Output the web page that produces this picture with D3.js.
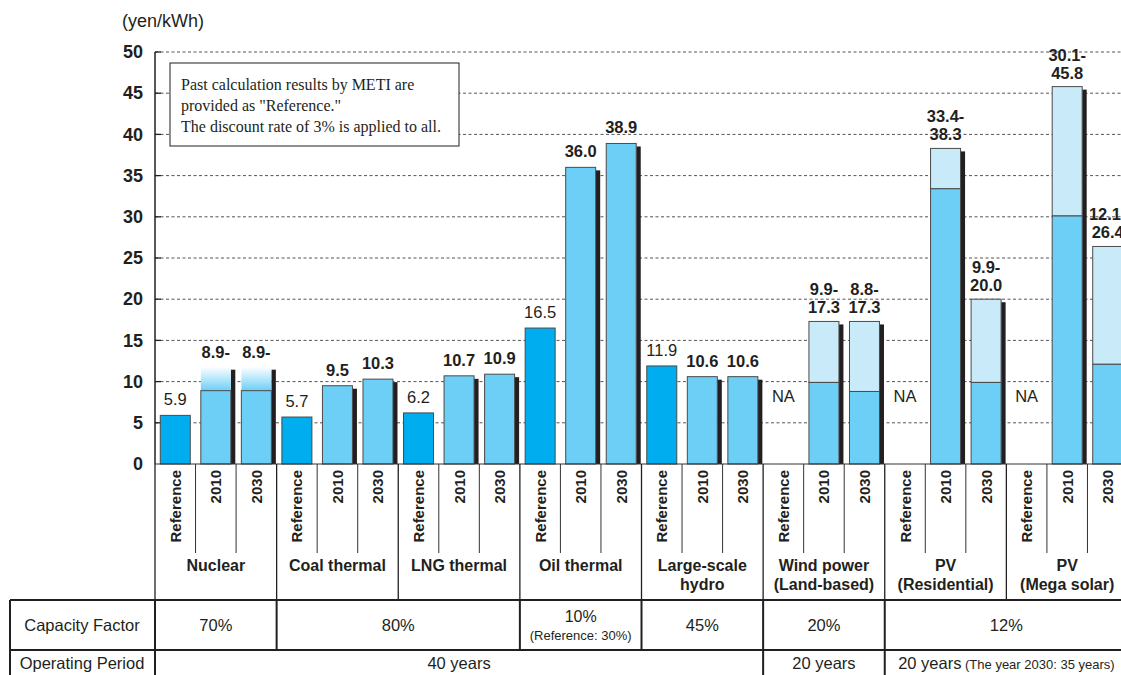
<!DOCTYPE html>
<html><head><meta charset="utf-8">
<script src="https://cdn.jsdelivr.net/npm/d3@7"></script>
<style>
html,body{margin:0;padding:0;background:#fff;}
svg{display:block;font-family:"Liberation Sans",Arial,Helvetica,sans-serif;}
</style></head>
<body>
<svg id="c" width="1121" height="675"></svg>
<script>
// ---- data ----
const groups = ["Nuclear","Coal thermal","LNG thermal","Oil thermal","Large-scale\nhydro","Wind power\n(Land-based)","PV\n(Residential)","PV\n(Mega solar)"];
const periods = ["Reference","2010","2030"];
const refValues = [5.9, 5.7, 6.2, 16.5, 11.9, null, null, null];
const low2010  = [8.9, 9.5, 10.7, 36.0, 10.6, 9.9, 33.4, 30.1];
const high2010 = [null, null, null, null, null, 17.3, 38.3, 45.8];
const low2030  = [8.9, 10.3, 10.9, 38.9, 10.6, 8.8, 9.9, 12.1];
const high2030 = [null, null, null, null, null, 17.3, 20.0, 26.4];
const openEnded = [true, false, false, false, false, false, false, false];
const yTicks = [0,5,10,15,20,25,30,35,40,45,50];
const yUnit = "(yen/kWh)";
const noteLines = ["Past calculation results by METI are","provided as \"Reference.\"","The discount rate of 3% is applied to all."];
const capacityLabels = ["70%","80%","10%","45%","20%","12%"];
const capacitySubs = [null,null,"(Reference: 30%)",null,null,null];
const capacitySpans = [[0,1],[1,3],[3,4],[4,5],[5,6],[6,8]];
const periodLabels = ["40 years","20 years","20 years"];
const periodSubs = [null,null,"(The year 2030: 35 years)"];
const periodSpans = [[0,5],[5,6],[6,8]];
const rowTitles = ["Capacity Factor","Operating Period"];

// ---- build slot records ----
const slots = [];
groups.forEach((g,i)=>{
  periods.forEach((p,j)=>{
    let lo, hi = null;
    if (j===0) lo = refValues[i];
    else if (j===1) { lo = low2010[i]; hi = high2010[i]; }
    else { lo = low2030[i]; hi = high2030[i]; }
    slots.push({key:i+"-"+p, gi:i, period:p, ref:j===0, lo, hi, open: j>0 && openEnded[i]});
  });
});

const svg = d3.select("#c");
const X0 = 155, X1 = 1128, Y0 = 464, Y50 = 52;
const y = d3.scaleLinear().domain([0,50]).range([Y0, Y50]);
const gx = d3.scaleBand().domain(groups).range([X0, X1]);
const sx = d3.scaleBand().domain(slots.map(d=>d.key)).range([X0, X1]).paddingInner(0.26).paddingOuter(0.13);

const cRef = "#00aeef", cMain = "#6dcff6", cLight = "#c8eaf9", cShadow = "#231f20", cEdge = "#4a4a4a";

// gradient for open-ended nuclear
const defs = svg.append("defs");
const grad = defs.append("linearGradient").attr("id","fade").attr("x1",0).attr("y1",1).attr("x2",0).attr("y2",0);
grad.append("stop").attr("offset","0%").attr("stop-color",cMain);
grad.append("stop").attr("offset","100%").attr("stop-color","#ffffff");

// grid
svg.append("g").selectAll("line").data(yTicks.filter(t=>t>0)).join("line")
  .attr("x1",X0).attr("x2",1121).attr("y1",d=>y(d)).attr("y2",d=>y(d))
  .attr("stroke","#555").attr("stroke-width",1).attr("stroke-dasharray","3,2.5");

// y axis
const ax = svg.append("g").attr("transform",`translate(${X0},0)`)
  .call(d3.axisLeft(y).tickValues(yTicks).tickSize(0).tickPadding(12));
ax.select(".domain").remove();
ax.selectAll("text").attr("font-size",18).attr("font-weight","bold").attr("fill","#231f20")
  .attr("font-family","Liberation Sans, Arial, sans-serif");
svg.append("line").attr("x1",X0).attr("x2",X0).attr("y1",y(50)).attr("y2",Y0).attr("stroke","#231f20").attr("stroke-width",1.5);
svg.append("g").selectAll("line").data(yTicks.filter(t=>t>0)).join("line")
  .attr("x1",X0).attr("x2",X0+6).attr("y1",d=>y(d)).attr("y2",d=>y(d)).attr("stroke","#231f20").attr("stroke-width",1.3);
svg.append("text").attr("x",122).attr("y",27).attr("font-size",18).attr("fill","#231f20").text(yUnit);

// bars
const bw = sx.bandwidth();
const FADE = 24;
const barsG = svg.append("g");
slots.forEach(d=>{
  if (d.lo==null) return;
  const x = sx(d.key);
  const top = d.hi!=null ? y(d.hi) : (d.open ? y(d.lo)-FADE : y(d.lo));
  if (!d.ref) {
    barsG.append("rect").attr("x",x+bw).attr("y",top+3).attr("width",4.5).attr("height",Y0-top-3).attr("fill",cShadow);
  }
  if (d.open) {
    barsG.append("rect").attr("x",x).attr("y",top).attr("width",bw).attr("height",FADE).attr("fill","url(#fade)");
  }
  if (d.hi!=null) {
    barsG.append("rect").attr("x",x).attr("y",y(d.hi)).attr("width",bw).attr("height",y(d.lo)-y(d.hi))
      .attr("fill",cLight).attr("stroke",cEdge).attr("stroke-width",1);
  }
  barsG.append("rect").attr("x",x).attr("y",y(d.lo)).attr("width",bw).attr("height",Y0-y(d.lo))
    .attr("fill",d.ref?cRef:cMain).attr("stroke",cEdge).attr("stroke-width",1);
});

// value labels
const lab = svg.append("g").attr("text-anchor","middle").attr("fill","#231f20").attr("font-size",16.5);
slots.forEach(d=>{
  const cx = sx(d.key)+bw/2;
  if (d.lo==null) {
    lab.append("text").attr("x",cx).attr("y",y(7.5)).text("NA");
    return;
  }
  const fw = d.ref ? "normal" : "bold";
  if (d.hi!=null) {
    const b = y(d.hi)-8;
    lab.append("text").attr("x",cx).attr("y",b-18).attr("font-weight",fw).text(d.lo.toFixed(1)+"-");
    lab.append("text").attr("x",cx).attr("y",b).attr("font-weight",fw).text(d.hi.toFixed(1));
  } else if (d.open) {
    lab.append("text").attr("x",cx).attr("y",y(d.lo)-FADE-9).attr("font-weight",fw).text(d.lo.toFixed(1)+"-");
  } else {
    lab.append("text").attr("x",cx).attr("y",y(d.lo)-10).attr("font-weight",fw).text(d.lo.toFixed(1));
  }
});

// note box
const nb = svg.append("g");
nb.append("rect").attr("x",170).attr("y",63).attr("width",289).attr("height",83).attr("fill","#fff").attr("stroke","#231f20").attr("stroke-width",1);
nb.selectAll("text").data(noteLines).join("text")
  .attr("x",181).attr("y",(d,i)=>90+i*21).attr("font-family","Liberation Serif, Times New Roman, serif")
  .attr("font-size",16).attr("fill","#231f20").text(d=>d);

// category area
const cat = svg.append("g");
cat.append("line").attr("x1",X0).attr("x2",1121).attr("y1",Y0).attr("y2",Y0).attr("stroke","#333").attr("stroke-width",1);
slots.forEach((d,i)=>{
  const bx = X0 + i*(X1-X0)/slots.length;
  if (i%3!==0) cat.append("line").attr("x1",bx).attr("x2",bx).attr("y1",Y0).attr("y2",553).attr("stroke","#333").attr("stroke-width",1);
  const cx = sx(d.key)+bw/2;
  cat.append("text").attr("transform",`translate(${cx+5.5},470) rotate(-90)`)
    .attr("text-anchor","end").attr("font-size",15).attr("font-weight","bold").attr("fill","#231f20").text(d.period);
});
groups.forEach((g,i)=>{
  const bx = gx(g);
  cat.append("line").attr("x1",bx).attr("x2",bx).attr("y1",Y0).attr("y2",600).attr("stroke","#231f20").attr("stroke-width",1.3);
  const lines = g.split("\n");
  lines.forEach((t,k)=>{
    cat.append("text").attr("x",bx+gx.bandwidth()/2).attr("y",571+k*19).attr("text-anchor","middle")
      .attr("font-size",16).attr("font-weight","bold").attr("fill","#231f20").text(t);
  });
});

// table
const tb = svg.append("g").attr("fill","#231f20");
tb.append("line").attr("x1",10).attr("x2",1121).attr("y1",600).attr("y2",600).attr("stroke","#231f20").attr("stroke-width",2);
tb.append("line").attr("x1",10).attr("x2",1121).attr("y1",650).attr("y2",650).attr("stroke","#231f20").attr("stroke-width",2);
tb.append("line").attr("x1",10).attr("x2",10).attr("y1",600).attr("y2",675).attr("stroke","#231f20").attr("stroke-width",2);
tb.append("line").attr("x1",X0).attr("x2",X0).attr("y1",600).attr("y2",675).attr("stroke","#231f20").attr("stroke-width",2);
tb.append("text").attr("x",82).attr("y",631).attr("text-anchor","middle").attr("font-size",16.5).text(rowTitles[0]);
tb.append("text").attr("x",82).attr("y",669).attr("text-anchor","middle").attr("font-size",16.5).text(rowTitles[1]);
function spanX(s){ return [gx(groups[s[0]]), s[1]<groups.length ? gx(groups[s[1]]) : X1]; }
capacitySpans.forEach((s,i)=>{
  const [a,b] = spanX(s);
  if (s[1]<groups.length) tb.append("line").attr("x1",b).attr("x2",b).attr("y1",600).attr("y2",650).attr("stroke","#231f20").attr("stroke-width",2);
  const cx=(a+b)/2;
  if (capacitySubs[i]) {
    tb.append("text").attr("x",cx).attr("y",622).attr("text-anchor","middle").attr("font-size",16).text(capacityLabels[i]);
    tb.append("text").attr("x",cx).attr("y",640).attr("text-anchor","middle").attr("font-size",13).text(capacitySubs[i]);
  } else {
    tb.append("text").attr("x",cx).attr("y",631).attr("text-anchor","middle").attr("font-size",16.5).text(capacityLabels[i]);
  }
});
periodSpans.forEach((s,i)=>{
  const [a,b] = spanX(s);
  if (s[1]<groups.length) tb.append("line").attr("x1",b).attr("x2",b).attr("y1",650).attr("y2",675).attr("stroke","#231f20").attr("stroke-width",2);
  const t = tb.append("text").attr("x",(a+b)/2).attr("y",669).attr("text-anchor","middle").attr("font-size",16.5);
  t.append("tspan").text(periodLabels[i]);
  if (periodSubs[i]) t.append("tspan").attr("font-size",13).text(" "+periodSubs[i]);
});
</script>
</body></html>
